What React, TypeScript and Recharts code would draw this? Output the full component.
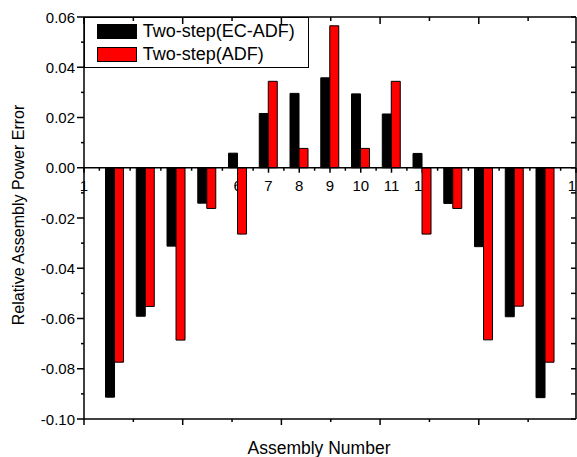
import React from 'react';
import { BarChart, Bar, XAxis, YAxis, ReferenceLine, Legend, CartesianGrid } from 'recharts';

// ---------- data ----------
const assemblies = [2, 3, 4, 5, 6, 7, 8, 9, 10, 11, 12, 13, 14, 15, 16];
const ecAdf = [-0.0913, -0.0591, -0.0312, -0.0141, 0.0058, 0.0216, 0.0296, 0.0358, 0.0294, 0.0214, 0.0057, -0.0142, -0.0314, -0.0593, -0.0915];
const adf = [-0.0774, -0.0552, -0.0686, -0.0162, -0.0264, 0.0344, 0.0077, 0.0565, 0.0077, 0.0344, -0.0264, -0.0162, -0.0685, -0.0551, -0.0774];
const seriesNames = ['Two-step(EC-ADF)', 'Two-step(ADF)'];
const categoryTicks = [1, 1.5, 2, 2.5, 3, 3.5, 4, 4.5, 5, 5.5, 6, 6.5, 7, 7.5, 8, 8.5, 9, 9.5, 10, 10.5, 11, 11.5, 12, 12.5, 13, 13.5, 14, 14.5, 15, 15.5, 16, 16.5, 17];
const yTicks = [-0.1, -0.09, -0.08, -0.07, -0.06, -0.05, -0.04, -0.03, -0.02, -0.01, 0, 0.01, 0.02, 0.03, 0.04, 0.05, 0.06];
const frameTicks = [0, 0.5, 1, 1.5, 2, 2.5, 3, 3.5, 4, 4.5];
const xTitle = 'Assembly Number';
const yTitle = 'Relative Assembly Power Error';

const data = assemblies.map((a, i) => ({ x: a, ec: ecAdf[i], adf: adf[i] }));

// ---------- layout ----------
const W = 577;
const H = 457;
const TOP = 17;
const BOTTOM_H = 38;
const LEFT_W = 84;
const X_MIN = 1;
const X_MAX = 17;
const Y_MIN = -0.1;
const Y_MAX = 0.06;
const FONT = '"Liberation Sans", Arial, Helvetica, sans-serif';
const AXIS_W = 1.5;

const isMajorY = (v: number) => Math.abs(Math.round(v * 100)) % 2 === 0;
const isInt = (v: number) => Math.abs(v - Math.round(v)) < 1e-9;

const LeftTick = (props: any) => {
  const { x, y, payload } = props;
  const v = payload.value as number;
  const major = isMajorY(v);
  return (
    <g>
      <line x1={x - (major ? 7 : 3)} x2={x} y1={y} y2={y} stroke="#000" strokeWidth={AXIS_W} />
      {major && (
        <text x={x - 9} y={y} textAnchor="end" dominantBaseline="central" fontSize={15} fontFamily={FONT} fill="#000">
          {v.toFixed(2)}
        </text>
      )}
    </g>
  );
};

const RightTick = (props: any) => {
  const { x, y } = props;
  return <line x1={x - 5} x2={x} y1={y} y2={y} stroke="#000" strokeWidth={AXIS_W} />;
};

const TopTick = (props: any) => {
  const { x, y, payload } = props;
  const major = isInt(payload.value);
  return <line x1={x} x2={x} y1={y} y2={y + (major ? 7 : 4)} stroke="#000" strokeWidth={AXIS_W} />;
};

const BottomTick = (props: any) => {
  const { x, y, payload } = props;
  const major = isInt(payload.value);
  return <line x1={x} x2={x} y1={y} y2={y + (major ? 6 : 3)} stroke="#000" strokeWidth={AXIS_W} />;
};

// positions of the zero-axis ticks, taken from the category axis scale
const zeroAxisCoordinates = (args: any) => {
  const xAxis = args && args.xAxis;
  const scale = xAxis && xAxis.scale;
  if (typeof scale === 'function') {
    return categoryTicks.map((t) => scale(t));
  }
  const off = args.offset;
  return categoryTicks.map((t) => off.left + ((t - X_MIN) / (X_MAX - X_MIN)) * off.width);
};

// zero-line ticks and category labels, drawn in the grid layer (under the bars)
const ZeroAxisItem = (props: any) => {
  const { x1, y1, y2, index } = props;
  const t = categoryTicks[index];
  if (t === undefined) return null;
  const major = isInt(t);
  const zy = y1 + ((y2 - y1) * Y_MAX) / (Y_MAX - Y_MIN);
  return (
    <g key={`zt-${index}`}>
      <line x1={x1} x2={x1} y1={zy} y2={zy + (major ? 5 : 3)} stroke="#000" strokeWidth={AXIS_W} />
      {major && (
        <text x={x1} y={zy + 23.5} textAnchor="middle" fontSize={15} fontFamily={FONT} fill="#000">
          {String(t)}
        </text>
      )}
    </g>
  );
};

const renderLegend = (props: any) => {
  const payload = [...(props.payload || [])].sort(
    (a: any, b: any) => seriesNames.indexOf(a.value) - seriesNames.indexOf(b.value)
  );
  return (
    <div
      style={{
        width: 225,
        height: 51,
        border: '1px solid #000',
        boxSizing: 'border-box',
        position: 'relative',
        fontFamily: FONT,
        fontSize: 18,
        color: '#000',
      }}
    >
      {payload.map((entry: any, i: number) => (
        <div
          key={i}
          style={{ position: 'absolute', left: 11.7, top: 6 + i * 23.3, height: 15, display: 'flex', alignItems: 'center', whiteSpace: 'nowrap' }}
        >
          <span
            style={{ display: 'inline-block', width: 40, height: 15, background: entry.color, border: '1px solid #000', boxSizing: 'border-box' }}
          />
          <span style={{ marginLeft: 6, lineHeight: '15px' }}>{entry.value}</span>
        </div>
      ))}
    </div>
  );
};

const XTitle = (props: any) => {
  const vb = props.viewBox || {};
  return (
    <text x={vb.x + vb.width / 2 - 11} y={vb.y + vb.height - 3.5} textAnchor="middle" fontSize={17.5} fontFamily={FONT} fill="#000">
      {xTitle}
    </text>
  );
};

const YTitle = (props: any) => {
  const vb = props.viewBox || {};
  const cy = vb.y + vb.height / 2 - 3;
  return (
    <text transform={`translate(24, ${cy}) rotate(-90)`} textAnchor="middle" fontSize={16} fontFamily={FONT} fill="#000">
      {yTitle}
    </text>
  );
};

export default function App() {
  return (
    <div style={{ position: 'absolute', left: 0, top: 0, background: '#fff' }}>
      <BarChart
        width={W}
        height={H}
        data={data}
        margin={{ top: TOP - 1, right: 0, bottom: 0, left: 0 }}
        barCategoryGap="20%"
        barGap={0}
      >
        <CartesianGrid
          xAxisId="cat"
          yAxisId="left"
          horizontal={false}
          vertical={(p: any) => <ZeroAxisItem {...p} />}
          verticalCoordinatesGenerator={zeroAxisCoordinates}
          stroke="none"
        />
        <XAxis
          xAxisId="cat"
          dataKey="x"
          type="number"
          domain={[X_MIN, X_MAX]}
          ticks={categoryTicks}
          interval={0}
          orientation="top"
          mirror
          height={1}
          axisLine={false}
          tickLine={false}
          tick={false}
          allowDataOverflow
        />
        <XAxis
          xAxisId="top"
          dataKey="frameTop"
          type="number"
          domain={[0, 4.985]}
          ticks={frameTicks}
          interval={0}
          orientation="top"
          height={1}
          axisLine={{ stroke: '#000', strokeWidth: AXIS_W }}
          tickLine={false}
          tickSize={0}
          tickMargin={0}
          tick={<TopTick />}
          allowDataOverflow
        />
        <XAxis
          xAxisId="bottom"
          dataKey="frameBottom"
          type="number"
          domain={[0, 4.985]}
          ticks={frameTicks}
          interval={0}
          orientation="bottom"
          height={BOTTOM_H}
          axisLine={{ stroke: '#000', strokeWidth: AXIS_W }}
          tickLine={false}
          tickSize={0}
          tickMargin={0}
          tick={<BottomTick />}
          allowDataOverflow
          label={(p: any) => <XTitle {...p} />}
        />
        <YAxis
          yAxisId="left"
          type="number"
          domain={[Y_MIN, Y_MAX]}
          ticks={yTicks}
          interval={0}
          width={LEFT_W}
          axisLine={{ stroke: '#000', strokeWidth: AXIS_W }}
          tickLine={false}
          tickSize={0}
          tickMargin={0}
          tick={<LeftTick />}
          allowDataOverflow
          label={(p: any) => <YTitle {...p} />}
        />
        <YAxis
          yAxisId="right"
          orientation="right"
          type="number"
          domain={[Y_MIN, Y_MAX]}
          ticks={yTicks}
          interval={0}
          width={1}
          axisLine={{ stroke: '#000', strokeWidth: AXIS_W }}
          tickLine={false}
          tickSize={0}
          tickMargin={0}
          tick={<RightTick />}
          allowDataOverflow
        />
        <ReferenceLine y={0} xAxisId="cat" yAxisId="left" stroke="#000" strokeWidth={AXIS_W} />
        <Bar
          xAxisId="cat"
          yAxisId="left"
          dataKey="ec"
          name={seriesNames[0]}
          fill="#000000"
          stroke="#000000"
          strokeWidth={1}
          isAnimationActive={false}
        />
        <Bar
          xAxisId="cat"
          yAxisId="left"
          dataKey="adf"
          name={seriesNames[1]}
          fill="#ff0000"
          stroke="#000000"
          strokeWidth={1}
          isAnimationActive={false}
        />
        <Legend
          layout="vertical"
          align="center"
          verticalAlign="middle"
          content={renderLegend}
          wrapperStyle={{ left: LEFT_W, top: TOP, width: 225, height: 51 }}
        />
      </BarChart>
    </div>
  );
}
